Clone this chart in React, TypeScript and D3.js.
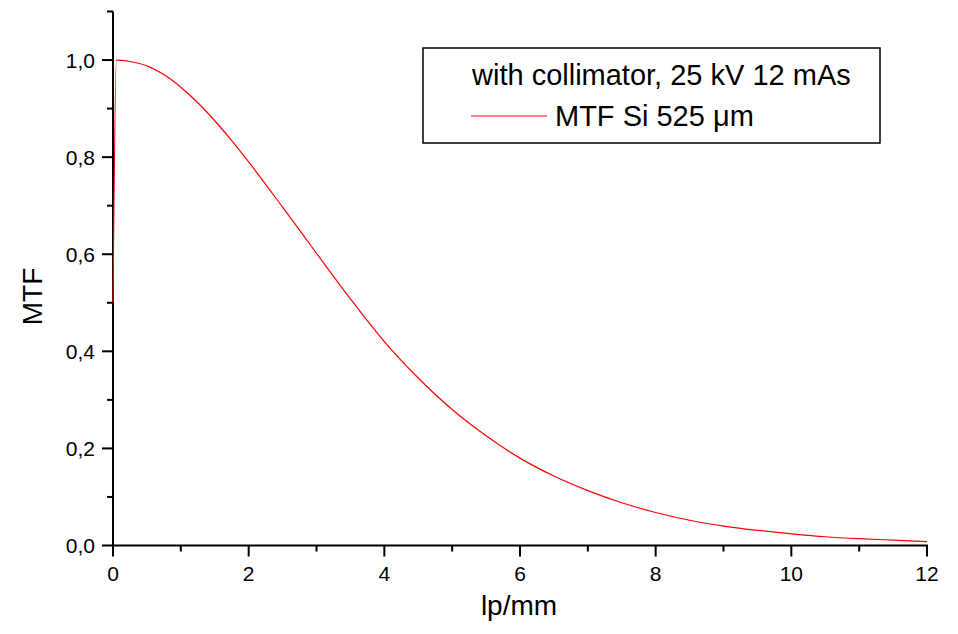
import React from "react";
import * as d3 from "d3";

const lpmm = [0, 0.05, 0.25, 0.5, 0.75, 1.0, 1.25, 1.5, 1.75, 2.0, 2.5, 3.0, 3.5, 4.0, 4.5, 5.0, 5.5, 6.0, 6.5, 7.0, 7.5, 8.0, 8.5, 9.0, 9.5, 10.0, 10.5, 11.0, 11.5, 12.0];
const mtf = [0.5, 1.0, 0.997, 0.988, 0.97, 0.944, 0.912, 0.875, 0.834, 0.79, 0.697, 0.602, 0.508, 0.42, 0.345, 0.28, 0.226, 0.18, 0.143, 0.113, 0.088, 0.068, 0.052, 0.04, 0.031, 0.024, 0.018, 0.014, 0.011, 0.008];
const xMajorTicks = [0, 2, 4, 6, 8, 10, 12];
const xMinorTicks = [1, 3, 5, 7, 9, 11];
const yMajorTicks = [0, 0.2, 0.4, 0.6, 0.8, 1.0];
const yMinorTicks = [0.1, 0.3, 0.5, 0.7, 0.9, 1.1];
const legendTitle = "with collimator, 25 kV 12 mAs";
const seriesName = "MTF Si 525 μm";
const xTitle = "lp/mm";
const yTitle = "MTF";

const W = 958;
const H = 634;
const FONT = "Liberation Sans, Arial, sans-serif";

export default function App() {
  const x = d3.scaleLinear().domain([0, 12]).range([113, 927]);
  const y = d3.scaleLinear().domain([0, 1.1]).range([545.5, 11.5]);
  const pts: [number, number][] = lpmm.map((v, i) => [v, mtf[i]]);
  const line = d3
    .line<[number, number]>()
    .x((d) => x(d[0]))
    .y((d) => y(d[1]))
    .curve(d3.curveMonotoneX);
  const fmt = (v: number) => v.toFixed(1).replace(".", ",");
  const x0 = x(0);
  const y0 = y(0);
  return (
    <svg
      width={W}
      height={H}
      style={{ position: "absolute", left: 0, top: 0, background: "#fff" }}
      fontFamily={FONT}
    >
      <rect x={0} y={0} width={W} height={H} fill="#fff" />
      {/* axes */}
      <line x1={x0} x2={x0} y1={y(1.1)} y2={y0 + 1} stroke="#000" strokeWidth={2} />
      <line x1={x0 - 1} x2={x(12) + 1} y1={y0} y2={y0} stroke="#000" strokeWidth={2} />
      {yMajorTicks.map((t) => (
        <g key={"ym" + t}>
          <line x1={x0 - 11} x2={x0} y1={y(t)} y2={y(t)} stroke="#000" strokeWidth={2} />
          <text x={x0 - 18} y={y(t)} dy="0.36em" textAnchor="end" fontSize={21}>
            {fmt(t)}
          </text>
        </g>
      ))}
      {yMinorTicks.map((t) => (
        <line key={"yn" + t} x1={x0 - 6} x2={x0} y1={y(t)} y2={y(t)} stroke="#000" strokeWidth={2} />
      ))}
      {xMajorTicks.map((t) => (
        <g key={"xm" + t}>
          <line x1={x(t)} x2={x(t)} y1={y0} y2={y0 + 11} stroke="#000" strokeWidth={2} />
          <text x={x(t)} y={y0 + 35.5} textAnchor="middle" fontSize={21}>
            {t}
          </text>
        </g>
      ))}
      {xMinorTicks.map((t) => (
        <line key={"xn" + t} x1={x(t)} x2={x(t)} y1={y0} y2={y0 + 6} stroke="#000" strokeWidth={2} />
      ))}
      <path d={line(pts) || ""} fill="none" stroke="#ff0000" strokeWidth={1.2} />
      <text x={519} y={615} textAnchor="middle" fontSize={28}>
        {xTitle}
      </text>
      <text
        transform={`translate(42, 296.5) rotate(-90)`}
        textAnchor="middle"
        fontSize={28}
      >
        {yTitle}
      </text>
      {/* legend */}
      <rect x={423} y={48} width={457} height={95} fill="#fff" stroke="#000" strokeWidth={1.5} />
      <text x={472} y={85} fontSize={29}>
        {legendTitle}
      </text>
      <line x1={471} x2={547} y1={116} y2={116} stroke="#ff0000" strokeWidth={1} />
      <text x={555} y={126} fontSize={29}>
        {seriesName}
      </text>
    </svg>
  );
}
